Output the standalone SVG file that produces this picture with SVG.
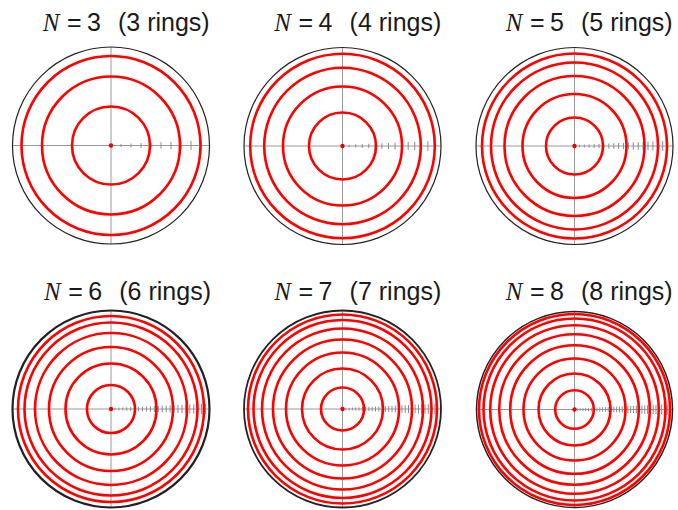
<svg xmlns="http://www.w3.org/2000/svg" width="678" height="510" viewBox="0 0 678 510">
<style>
.t{font-family:"Liberation Sans",Arial,sans-serif;font-size:25px;fill:#1a1a1a}
.n{font-family:"Liberation Serif","Times New Roman",serif;font-style:italic}
.edge{fill:none;stroke:#222}
.axis{stroke:#999;stroke-width:1;fill:none}
.ring{fill:none;stroke:#f00;stroke-width:2.6}
.dot{fill:#e00}
.tick{stroke:#8a8a8a;stroke-width:22;fill:none}
</style>
<defs>
<clipPath id="wedge" clipPathUnits="userSpaceOnUse">
<polygon points="0,-1 100,-5.5 100,5.5 0,1"/>
</clipPath>
</defs>
<rect width="678" height="510" fill="#fff"/>

<g id="titles">
<text class="t" y="31"><tspan class="n" x="42.7">N</tspan><tspan x="67">=</tspan><tspan x="87">3</tspan><tspan x="118">(3 rings)</tspan></text>
<text class="t" y="31"><tspan class="n" x="274.3">N</tspan><tspan x="298.6">=</tspan><tspan x="318.6">4</tspan><tspan x="349.6">(4 rings)</tspan></text>
<text class="t" y="31"><tspan class="n" x="505.7">N</tspan><tspan x="530">=</tspan><tspan x="550">5</tspan><tspan x="581">(5 rings)</tspan></text>
<text class="t" y="300"><tspan class="n" x="44">N</tspan><tspan x="68.3">=</tspan><tspan x="88.3">6</tspan><tspan x="119.3">(6 rings)</tspan></text>
<text class="t" y="300"><tspan class="n" x="274.3">N</tspan><tspan x="298.6">=</tspan><tspan x="318.6">7</tspan><tspan x="349.6">(7 rings)</tspan></text>
<text class="t" y="300"><tspan class="n" x="505.7">N</tspan><tspan x="530">=</tspan><tspan x="550">8</tspan><tspan x="581">(8 rings)</tspan></text>
</g>

<g id="panel-n3" transform="translate(111,145.5)">
<path class="axis" d="M-98.5,0H98.5M0,-98.5V98.5"/>
<line class="tick" x1="9.5" y1="0" x2="92" y2="0" stroke-dasharray="1 9" clip-path="url(#wedge)"/>
<circle class="ring" r="39"/><circle class="ring" r="69"/><circle class="ring" r="89.5"/>
<circle class="edge" r="98.5" stroke-width="1.2"/>
<circle class="dot" r="2.2"/>
</g>

<g id="panel-n4" transform="translate(342.5,146)">
<path class="axis" d="M-98.5,0H98.5M0,-98.5V98.5"/>
<line class="tick" x1="6.07" y1="0" x2="93" y2="0" stroke-dasharray="1 5.57" clip-path="url(#wedge)"/>
<circle class="ring" r="33.5"/><circle class="ring" r="59.5"/><circle class="ring" r="78.3"/><circle class="ring" r="92.3"/>
<circle class="edge" r="98.5" stroke-width="1.2"/>
<circle class="dot" r="2.2"/>
</g>

<g id="panel-n5" transform="translate(574.5,146)">
<path class="axis" d="M-98.5,0H98.5M0,-98.5V98.5"/>
<line class="tick" x1="4.4" y1="0" x2="94" y2="0" stroke-dasharray="1 3.9" clip-path="url(#wedge)"/>
<circle class="ring" r="28.5"/><circle class="ring" r="52"/><circle class="ring" r="70"/><circle class="ring" r="83.5"/><circle class="ring" r="92.5"/>
<circle class="edge" r="98.5" stroke-width="1.2"/>
<circle class="dot" r="2.2"/>
</g>

<g id="panel-n6" transform="translate(111,409)">
<path class="axis" d="M-98.5,0H98.5M0,-98.5V98.5"/>
<line class="tick" x1="3.44" y1="0" x2="95" y2="0" stroke-dasharray="1 2.94" clip-path="url(#wedge)"/>
<circle class="ring" r="24"/><circle class="ring" r="45.5"/><circle class="ring" r="62"/><circle class="ring" r="76"/><circle class="ring" r="86.5"/><circle class="ring" r="93"/>
<circle class="edge" r="98.5" stroke-width="2.2"/>
<circle class="dot" r="2.2"/>
</g>

<g id="panel-n7" transform="translate(342.5,409)">
<path class="axis" d="M-98.5,0H98.5M0,-98.5V98.5"/>
<line class="tick" x1="2.8" y1="0" x2="95" y2="0" stroke-dasharray="1 2.3" clip-path="url(#wedge)"/>
<circle class="ring" r="21.5"/><circle class="ring" r="40.5"/><circle class="ring" r="56.5"/><circle class="ring" r="69.5"/><circle class="ring" r="80.5"/><circle class="ring" r="89"/><circle class="ring" r="94.5"/>
<circle class="edge" r="98.5" stroke-width="1.8"/>
<circle class="dot" r="2.2"/>
</g>

<g id="panel-n8" transform="translate(574.5,409.5)">
<path class="axis" d="M-98,0H98M0,-98V98"/>
<line class="tick" x1="2.31" y1="0" x2="95" y2="0" stroke-dasharray="1 1.81" clip-path="url(#wedge)"/>
<circle class="ring" r="19.3"/><circle class="ring" r="36"/><circle class="ring" r="51"/><circle class="ring" r="64.3"/><circle class="ring" r="75.3"/><circle class="ring" r="84.3"/><circle class="ring" r="91"/><circle class="ring" r="95.5"/>
<circle class="edge" r="98" stroke-width="1.5"/>
<circle class="dot" r="2.2"/>
</g>
</svg>
